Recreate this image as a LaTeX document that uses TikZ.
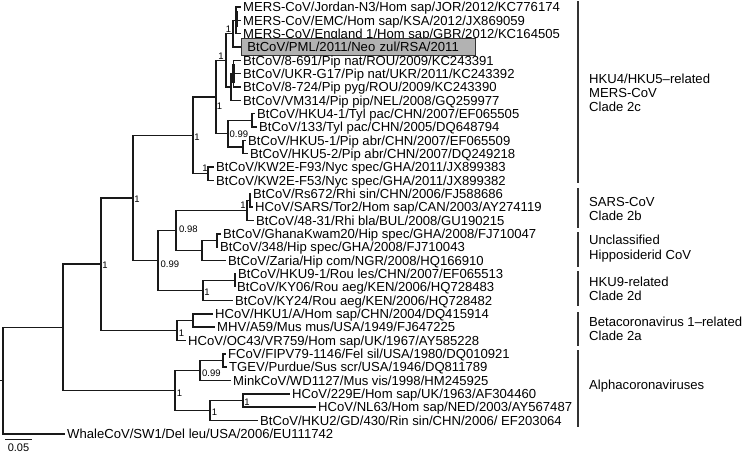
\documentclass[tikz,border=0pt]{standalone}
\usepackage{fontspec}
\setmainfont{Liberation Sans}
\begin{document}
\begin{tikzpicture}[x=1pt,y=-1pt,
  br/.style={line width=1.45pt, draw=black!90},
  thick/.style={line width=2.8pt, draw=black!90},
  leaf/.style={anchor=west, inner xsep=2pt, inner ysep=0pt, text height=9.4pt, text depth=0pt, font=\fontsize{13.1}{13.1}\selectfont},
  sup/.style={inner sep=0pt, font=\fontsize{9.5}{9.5}\selectfont},
  supw/.style={sup, anchor=west},
  bar/.style={line width=1.5pt, draw=black!80},
  clade/.style={anchor=west, align=left, inner sep=0pt, font=\fontsize{13.1}{14.3}\selectfont}]
\useasboundingbox (0,0) rectangle (750,455);

% ---------- leaves ----------
\node[leaf] (l1) at (241,7.0) {MERS-CoV/Jordan-N3/Hom sap/JOR/2012/KC776174};
\node[leaf] (l2) at (241,20.3) {MERS-CoV/EMC/Hom sap/KSA/2012/JX869059};
\node[leaf] (l3) at (241,33.7) {MERS-CoV/England 1/Hom sap/GBR/2012/KC164505};
\node[leaf, draw=black!80, line width=0.8pt, fill=black!30, inner xsep=6pt, minimum height=17pt, text width=222pt, align=left] (l4) at (241,47.0) {BtCoV/PML/2011/Neo zul/RSA/2011};
\node[leaf] (l5) at (241,60.4) {BtCoV/8-691/Pip nat/ROU/2009/KC243391};
\node[leaf] (l6) at (241,73.7) {BtCoV/UKR-G17/Pip nat/UKR/2011/KC243392};
\node[leaf] (l7) at (241,87.0) {BtCoV/8-724/Pip pyg/ROU/2009/KC243390};
\node[leaf] (l8) at (241,100.4) {BtCoV/VM314/Pip pip/NEL/2008/GQ259977};
\node[leaf] (l9) at (255,113.7) {BtCoV/HKU4-1/Tyl pac/CHN/2007/EF065505};
\node[leaf] (l10) at (257,127.1) {BtCoV/133/Tyl pac/CHN/2005/DQ648794};
\node[leaf] (l11) at (246,140.4) {BtCoV/HKU5-1/Pip abr/CHN/2007/EF065509};
\node[leaf] (l12) at (248,153.7) {BtCoV/HKU5-2/Pip abr/CHN/2007/DQ249218};
\node[leaf] (l13) at (214,167.1) {BtCoV/KW2E-F93/Nyc spec/GHA/2011/JX899383};
\node[leaf] (l14) at (214,180.4) {BtCoV/KW2E-F53/Nyc spec/GHA/2011/JX899382};
\node[leaf] (l15) at (251,193.8) {BtCoV/Rs672/Rhi sin/CHN/2006/FJ588686};
\node[leaf] (l16) at (253,207.1) {HCoV/SARS/Tor2/Hom sap/CAN/2003/AY274119};
\node[leaf] (l17) at (254,220.4) {BtCoV/48-31/Rhi bla/BUL/2008/GU190215};
\node[leaf] (l18) at (221,233.8) {BtCoV/GhanaKwam20/Hip spec/GHA/2008/FJ710047};
\node[leaf] (l19) at (218,247.1) {BtCoV/348/Hip spec/GHA/2008/FJ710043};
\node[leaf] (l20) at (226,260.5) {BtCoV/Zaria/Hip com/NGR/2008/HQ166910};
\node[leaf] (l21) at (236,273.8) {BtCoV/HKU9-1/Rou les/CHN/2007/EF065513};
\node[leaf] (l22) at (235,287.1) {BtCoV/KY06/Rou aeg/KEN/2006/HQ728483};
\node[leaf] (l23) at (233,300.5) {BtCoV/KY24/Rou aeg/KEN/2006/HQ728482};
\node[leaf] (l24) at (213,313.8) {HCoV/HKU1/A/Hom sap/CHN/2004/DQ415914};
\node[leaf] (l25) at (215,327.2) {MHV/A59/Mus mus/USA/1949/FJ647225};
\node[leaf] (l26) at (186,340.5) {HCoV/OC43/VR759/Hom sap/UK/1967/AY585228};
\node[leaf] (l27) at (226,353.9) {FCoV/FIPV79-1146/Fel sil/USA/1980/DQ010921};
\node[leaf] (l28) at (227,367.2) {TGEV/Purdue/Sus scr/USA/1946/DQ811789};
\node[leaf] (l29) at (231,380.5) {MinkCoV/WD1127/Mus vis/1998/HM245925};
\node[leaf] (l30) at (290,393.9) {HCoV/229E/Hom sap/UK/1963/AF304460};
\node[leaf] (l31) at (316,407.2) {HCoV/NL63/Hom sap/NED/2003/AY567487};
\node[leaf] (l32) at (258,420.6) {BtCoV/HKU2/GD/430/Rin sin/CHN/2006/ EF203064};
\node[leaf] (l33) at (65,433.9) {WhaleCoV/SW1/Del leu/USA/2006/EU111742};

% ---------- internal nodes ----------
\coordinate (M) at (236,20.3);
\coordinate (MP) at (233,33.7);
\coordinate (P2) at (233.5,73.7);
\coordinate (P) at (231,87.0);
\coordinate (E) at (226,60.4);
\coordinate (H4) at (252,120.4);
\coordinate (H5) at (243,147.1);
\coordinate (H45) at (228,133.7);
\coordinate (D) at (216,97.0);
\coordinate (KW) at (208,173.7);
\coordinate (C) at (193,135.4);
\coordinate (S1) at (250,200.5);
\coordinate (S) at (247,210.5);
\coordinate (GH) at (217,240.5);
\coordinate (Hip) at (202,250.5);
\coordinate (N98) at (176,230.5);
\coordinate (H9a) at (235,280.5);
\coordinate (H9) at (203,290.5);
\coordinate (B2) at (158,260.5);
\coordinate (B1) at (133,197.9);
\coordinate (HM) at (193,320.5);
\coordinate (T2a) at (177,330.5);
\coordinate (Beta) at (101,264.2);
\coordinate (FT) at (223,360.5);
\coordinate (FTM) at (200,370.5);
\coordinate (N2) at (243,400.5);
\coordinate (N1) at (210,410.6);
\coordinate (Alpha) at (175,390.5);
\coordinate (A) at (63,327.4);
\coordinate (R) at (3,380.6);
\coordinate (R0) at (0,380.6);

% ---------- branches ----------
\draw[br] (M) |- (l1.west);
\draw[br] (M) |- (l2.west);
\draw[br] (M) |- (l3.west);
\coordinate (Mt1) at (236.3,11);
\coordinate (Mt2) at (236.3,27);
\draw[thick] (Mt1) -- (Mt2);
\draw[br] (MP) |- (M);
\draw[br] (MP) |- (l4.west);
\draw[br] (P2) |- (l5.west);
\draw[br] (P2) |- (l6.west);
\draw[br] (P2) |- (l7.west);
\coordinate (Pt1) at (233.8,64);
\coordinate (Pt2) at (233.8,83);
\draw[thick] (Pt1) -- (Pt2);
\draw[br] (P) |- (P2);
\draw[br] (P) |- (l8.west);
\draw[br] (E) |- (MP);
\draw[br] (E) |- (P);
\draw[br] (H4) |- (l9.west);
\draw[br] (H4) |- (l10.west);
\draw[br] (H5) |- (l11.west);
\draw[br] (H5) |- (l12.west);
\draw[br] (H45) |- (H4);
\draw[br] (H45) |- (H5);
\draw[br] (D) |- (E);
\draw[br] (D) |- (H45);
\draw[br] (KW) |- (l13.west);
\draw[br] (KW) |- (l14.west);
\draw[br] (C) |- (D);
\draw[br] (C) |- (KW);
\draw[br] (S1) |- (l15.west);
\draw[br] (S1) |- (l16.west);
\draw[br] (S) |- (S1);
\draw[br] (S) |- (l17.west);
\draw[br] (GH) |- (l18.west);
\draw[br] (GH) |- (l19.west);
\draw[br] (Hip) |- (GH);
\draw[br] (Hip) |- (l20.west);
\draw[br] (N98) |- (S);
\draw[br] (N98) |- (Hip);
\draw[br] (H9a) |- (l21.west);
\draw[br] (H9a) |- (l22.west);
\draw[br] (H9) |- (H9a);
\draw[br] (H9) |- (l23.west);
\draw[br] (B2) |- (N98);
\draw[br] (B2) |- (H9);
\draw[br] (B1) |- (C);
\draw[br] (B1) |- (B2);
\draw[br] (HM) |- (l24.west);
\draw[br] (HM) |- (l25.west);
\draw[br] (T2a) |- (HM);
\draw[br] (T2a) |- (l26.west);
\draw[br] (Beta) |- (B1);
\draw[br] (Beta) |- (T2a);
\draw[br] (FT) |- (l27.west);
\draw[br] (FT) |- (l28.west);
\draw[br] (FTM) |- (FT);
\draw[br] (FTM) |- (l29.west);
\draw[br] (N2) |- (l30.west);
\draw[br] (N2) |- (l31.west);
\draw[br] (N1) |- (N2);
\draw[br] (N1) |- (l32.west);
\draw[br] (Alpha) |- (FTM);
\draw[br] (Alpha) |- (N1);
\draw[br] (A) |- (Beta);
\draw[br] (A) |- (Alpha);
\draw[br] (R) |- (A);
\draw[br] (R) |- (l33.west);
\draw[br] (R0) -- (R);

% ---------- support values ----------
\node[sup] (sMP) at (228.5,29) {1};
\node[sup] (sE) at (221,56) {1};
\node[sup] (sD) at (219.5,106) {1};
\node[sup] (sC) at (197,137) {1};
\node[supw] (sH45) at (229.5,134) {0.99};
\node[sup] (sKW) at (205,168.5) {1};
\node[sup] (sS) at (243,205.5) {1};
\node[supw] (sN98) at (179,229) {0.98};
\node[supw] (sB2) at (160.5,264) {0.99};
\node[sup] (sH9) at (207,292) {1};
\node[sup] (sB1) at (137,199) {1};
\node[sup] (sBeta) at (105,265) {1};
\node[sup] (sT2a) at (181.5,333) {1};
\node[supw] (sFTM) at (202,373) {0.99};
\node[sup] (sN2) at (247,402) {1};
\node[sup] (sN1) at (214.5,412) {1};
\node[sup] (sAlpha) at (179.5,393) {1};

% ---------- scale bar ----------
\coordinate (sb0) at (5,439.5);
\coordinate (sb1) at (32,439.5);
\draw[line width=1.2pt, draw=black!90] (sb0) -- (sb1);
\node[inner sep=0pt, font=\fontsize{11}{11}\selectfont] (sbl) at (18.5,447.5) {0.05};

% ---------- clade bars ----------
\coordinate (c1a) at (578,1);   \coordinate (c1b) at (578,183);
\coordinate (c2a) at (578,188); \coordinate (c2b) at (578,228);
\coordinate (c3a) at (578,232); \coordinate (c3b) at (578,267);
\coordinate (c4a) at (578,271); \coordinate (c4b) at (578,306);
\coordinate (c5a) at (578,312); \coordinate (c5b) at (578,346);
\coordinate (c6a) at (578,350); \coordinate (c6b) at (578,427);
\draw[bar] (c1a) -- (c1b);
\draw[bar] (c2a) -- (c2b);
\draw[bar] (c3a) -- (c3b);
\draw[bar] (c4a) -- (c4b);
\draw[bar] (c5a) -- (c5b);
\draw[bar] (c6a) -- (c6b);
\node[clade] (t1) at (589,93) {HKU4/HKU5–related\\MERS-CoV\\Clade 2c};
\node[clade] (t2) at (589,209) {SARS-CoV\\Clade 2b};
\node[clade] (t3) at (589,248.5) {Unclassified\\Hipposiderid CoV};
\node[clade] (t4) at (589,289) {HKU9-related\\Clade 2d};
\node[clade] (t5) at (589,328.5) {Betacoronavirus 1–related\\Clade 2a};
\node[clade] (t6) at (589,386) {Alphacoronaviruses};
\end{tikzpicture}
\end{document}
